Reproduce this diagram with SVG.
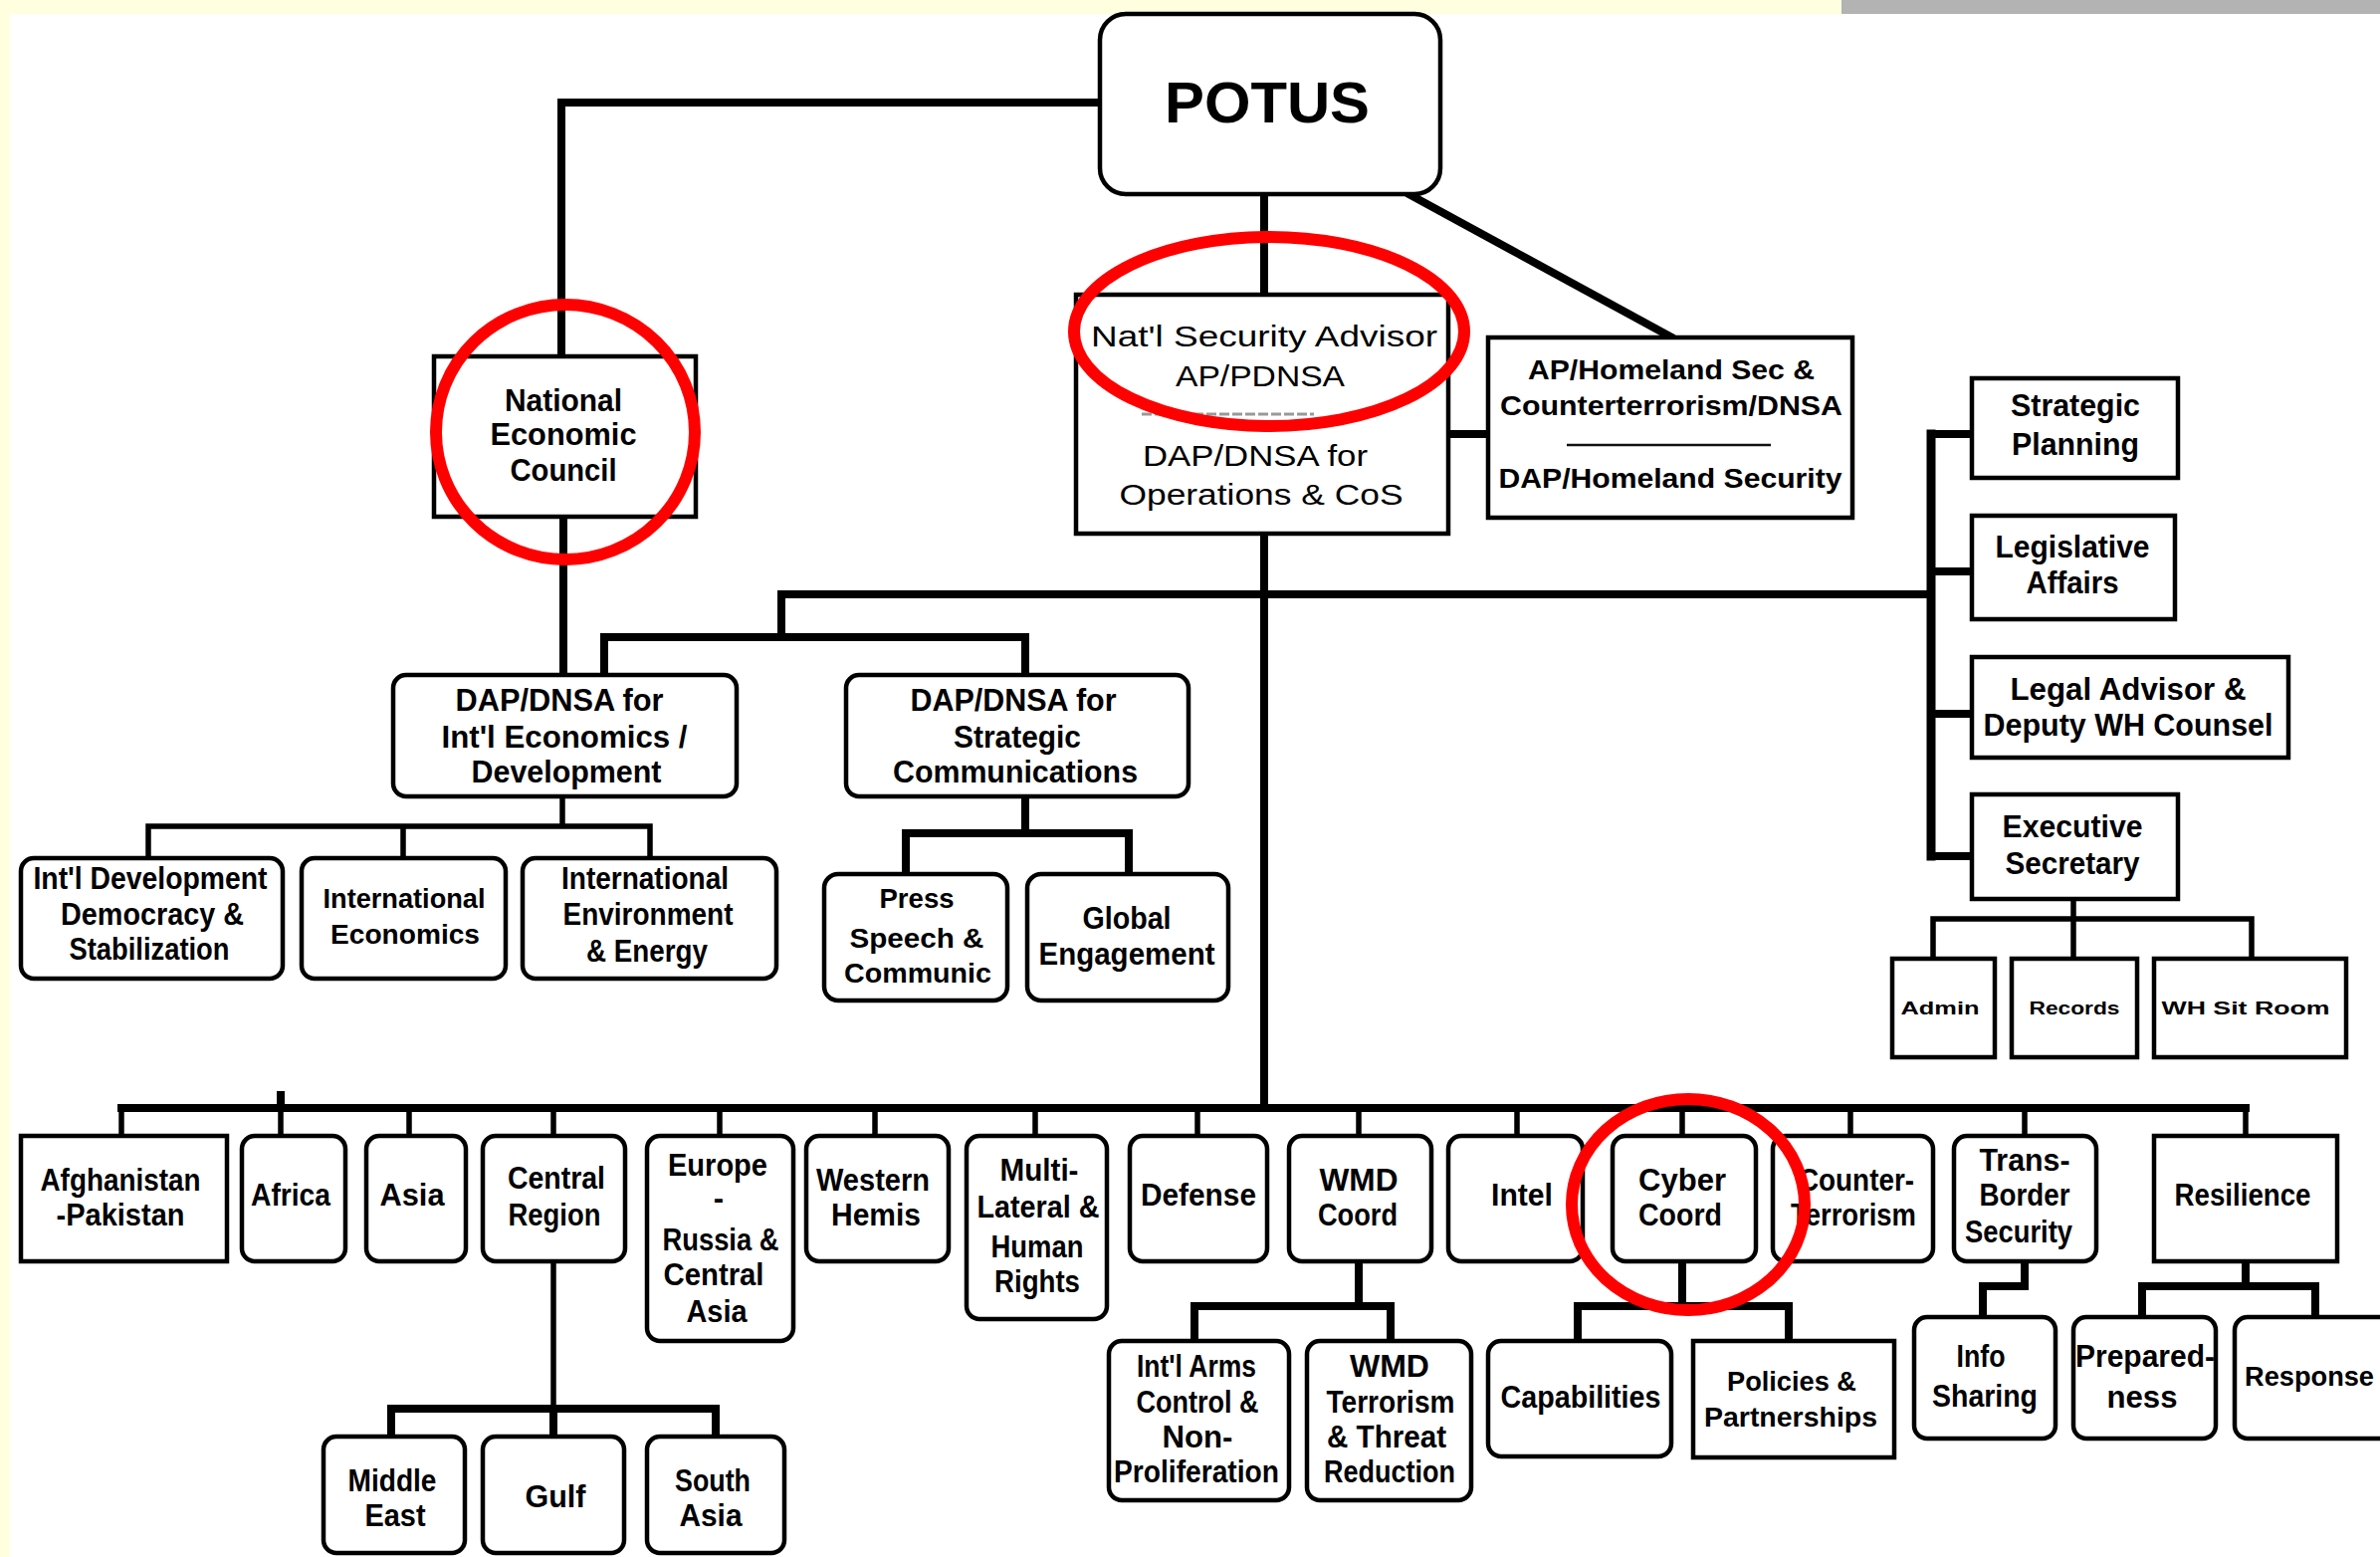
<svg xmlns="http://www.w3.org/2000/svg" width="2391" height="1564" viewBox="0 0 2391 1564">
<style>
.bx{fill:#fff;stroke:#000;stroke-width:4.5}
.t{font-family:"Liberation Sans",Arial,sans-serif;font-weight:bold;font-size:31px;text-anchor:middle;fill:#000}
.s{font-size:28px}
.xs{font-size:19px}
.r{font-weight:normal;font-size:30px}
.cn path{fill:none;stroke:#000;stroke-width:8;stroke-linecap:square}
.cn .th{stroke-width:5.5}
.el{fill:none;stroke:#f00;stroke-width:12}
</style>
<rect width="2391" height="1564" fill="#fff"/>
<rect x="0" y="0" width="1850" height="14" fill="#ffffe0"/>
<rect x="1850" y="0" width="541" height="14" fill="#b3b3b3"/>
<rect x="0" y="0" width="10" height="1564" fill="#ffffe0"/>

<g id="connectors" class="cn">
<path d="M1105,103 H564 V358"/>
<path d="M1270,195 V296"/>
<path d="M1417,196 L1678,338"/>
<path d="M1456,436 H1495"/>
<path d="M566,519 V678"/>
<path d="M1270,537 V1113"/>
<path d="M785,597 H1940"/>
<path d="M1940,436 V860" style="stroke-width:9"/>
<path d="M1940,436 H1981 M1940,574 H1981 M1940,717 H1981 M1940,860 H1981"/>
<path d="M785,597 V640 M607,640 H1030 M607,640 V678 M1030,640 V678"/>
<path class="th" d="M565,800 V830 M149,830 H653 M149,830 V862 M405,830 V862 M653,830 V862"/>
<path d="M1030,800 V837 M910,837 H1134 M910,837 V878 M1134,837 V878"/>
<path class="th" d="M2083,903 V923 M1942,923 H2262 M1942,923 V963 M2083,923 V963 M2262,923 V963"/>
<path d="M122,1113 H2256 M282,1100 V1113"/>
<path class="th" d="M122,1113 V1141 M282,1113 V1141 M411,1113 V1141 M556,1113 V1141 M723,1113 V1141 M879,1113 V1141 M1040,1113 V1141 M1203,1113 V1141 M1365,1113 V1141 M1524,1113 V1141 M1690,1113 V1141 M1859,1113 V1141 M2034,1113 V1141 M2256,1113 V1141"/>
<path class="th" d="M556,1267 V1415"/>
<path d="M393,1415 H719 M393,1415 V1443 M556,1415 V1443 M719,1415 V1443"/>
<path d="M1365,1267 V1312 M1200,1312 H1397 M1200,1312 V1347 M1397,1312 V1347"/>
<path d="M1690,1267 V1312 M1585,1312 H1797 M1585,1312 V1347 M1797,1312 V1347"/>
<path d="M2034,1267 V1292 H1992 V1323"/>
<path d="M2256,1267 V1292 M2152,1292 H2326 M2152,1292 V1323 M2326,1292 V1323"/>
</g>

<g id="potus"><rect class="bx" x="1105" y="14" width="342" height="181" rx="26"/><text class="t" x="1273" y="123" style="font-size:57px" textLength="206" lengthAdjust="spacingAndGlyphs">POTUS</text></g>

<g id="nec"><rect class="bx" x="436" y="358" width="263" height="161"/>
<text class="t" x="566" y="413" textLength="118" lengthAdjust="spacingAndGlyphs">National</text>
<text class="t" x="566" y="447" textLength="147" lengthAdjust="spacingAndGlyphs">Economic</text>
<text class="t" x="566" y="483" textLength="107" lengthAdjust="spacingAndGlyphs">Council</text></g>

<g id="nsa"><rect class="bx" x="1081" y="296" width="374" height="240"/>
<text class="t r" x="1270" y="348" textLength="348" lengthAdjust="spacingAndGlyphs">Nat'l Security Advisor</text>
<text class="t r" x="1266" y="388" textLength="170" lengthAdjust="spacingAndGlyphs">AP/PDNSA</text>
<path d="M1147,416 H1320" stroke="#999" stroke-width="3" stroke-dasharray="10 3"/>
<text class="t r" x="1261" y="468" textLength="226" lengthAdjust="spacingAndGlyphs">DAP/DNSA for</text>
<text class="t r" x="1267" y="507" textLength="285" lengthAdjust="spacingAndGlyphs">Operations &amp; CoS</text></g>

<g id="homeland"><rect class="bx" x="1495" y="339" width="366" height="181"/>
<text class="t s" x="1679" y="381" textLength="288" lengthAdjust="spacingAndGlyphs">AP/Homeland Sec &amp;</text>
<text class="t s" x="1679" y="417" textLength="344" lengthAdjust="spacingAndGlyphs">Counterterrorism/DNSA</text>
<path d="M1574,447 H1779" stroke="#111" stroke-width="2.5"/>
<text class="t s" x="1678" y="490" textLength="345" lengthAdjust="spacingAndGlyphs">DAP/Homeland Security</text></g>

<g id="strategic-planning"><rect class="bx" x="1981" y="380" width="207" height="100"/>
<text class="t" x="2085" y="418" textLength="130" lengthAdjust="spacingAndGlyphs">Strategic</text>
<text class="t" x="2085" y="457" textLength="128" lengthAdjust="spacingAndGlyphs">Planning</text></g>

<g id="legislative-affairs"><rect class="bx" x="1981" y="518" width="204" height="104"/>
<text class="t" x="2082" y="560" textLength="155" lengthAdjust="spacingAndGlyphs">Legislative</text>
<text class="t" x="2082" y="596" textLength="93" lengthAdjust="spacingAndGlyphs">Affairs</text></g>

<g id="legal-advisor"><rect class="bx" x="1981" y="660" width="318" height="101"/>
<text class="t" x="2138" y="703" textLength="237" lengthAdjust="spacingAndGlyphs">Legal Advisor &amp;</text>
<text class="t" x="2138" y="739" textLength="291" lengthAdjust="spacingAndGlyphs">Deputy WH Counsel</text></g>

<g id="executive-secretary"><rect class="bx" x="1981" y="798" width="207" height="105"/>
<text class="t" x="2082" y="841" textLength="141" lengthAdjust="spacingAndGlyphs">Executive</text>
<text class="t" x="2082" y="878" textLength="135" lengthAdjust="spacingAndGlyphs">Secretary</text></g>

<g id="admin"><rect class="bx" x="1901" y="963" width="103" height="99"/><text class="t xs" x="1949" y="1019" textLength="79" lengthAdjust="spacingAndGlyphs">Admin</text></g>
<g id="records"><rect class="bx" x="2021" y="963" width="126" height="99"/><text class="t xs" x="2084" y="1019" textLength="91" lengthAdjust="spacingAndGlyphs">Records</text></g>
<g id="wh-sit-room"><rect class="bx" x="2164" y="963" width="193" height="99"/><text class="t xs" x="2256" y="1019" textLength="169" lengthAdjust="spacingAndGlyphs">WH Sit Room</text></g>

<g id="dap-intl-econ"><rect class="bx" x="395" y="678" width="345" height="122" rx="13"/>
<text class="t" x="562" y="714" textLength="209" lengthAdjust="spacingAndGlyphs">DAP/DNSA for</text>
<text class="t" x="567" y="751" textLength="247" lengthAdjust="spacingAndGlyphs">Int'l Economics /</text>
<text class="t" x="569" y="786" textLength="191" lengthAdjust="spacingAndGlyphs">Development</text></g>

<g id="dap-strat-comm"><rect class="bx" x="850" y="678" width="344" height="122" rx="13"/>
<text class="t" x="1018" y="714" textLength="207" lengthAdjust="spacingAndGlyphs">DAP/DNSA for</text>
<text class="t" x="1022" y="751" textLength="128" lengthAdjust="spacingAndGlyphs">Strategic</text>
<text class="t" x="1020" y="786" textLength="246" lengthAdjust="spacingAndGlyphs">Communications</text></g>

<g id="intl-development"><rect class="bx" x="21" y="862" width="263" height="121" rx="13"/>
<text class="t" x="151" y="893" textLength="235" lengthAdjust="spacingAndGlyphs">Int'l Development</text>
<text class="t" x="153" y="929" textLength="184" lengthAdjust="spacingAndGlyphs">Democracy &amp;</text>
<text class="t" x="150" y="964" textLength="161" lengthAdjust="spacingAndGlyphs">Stabilization</text></g>

<g id="intl-economics"><rect class="bx" x="303" y="862" width="205" height="121" rx="13"/>
<text class="t s" x="406" y="912" textLength="163" lengthAdjust="spacingAndGlyphs">International</text>
<text class="t s" x="407" y="948" textLength="150" lengthAdjust="spacingAndGlyphs">Economics</text></g>

<g id="intl-environment"><rect class="bx" x="525" y="862" width="255" height="121" rx="13"/>
<text class="t" x="648" y="893" textLength="168" lengthAdjust="spacingAndGlyphs">International</text>
<text class="t" x="651" y="929" textLength="171" lengthAdjust="spacingAndGlyphs">Environment</text>
<text class="t" x="650" y="966" textLength="122" lengthAdjust="spacingAndGlyphs">&amp; Energy</text></g>

<g id="press"><rect class="bx" x="828" y="878" width="184" height="127" rx="14"/>
<text class="t s" x="921" y="912" textLength="75" lengthAdjust="spacingAndGlyphs">Press</text>
<text class="t s" x="921" y="952" textLength="135" lengthAdjust="spacingAndGlyphs">Speech &amp;</text>
<text class="t s" x="922" y="987" textLength="148" lengthAdjust="spacingAndGlyphs">Communic</text></g>

<g id="global-engagement"><rect class="bx" x="1032" y="878" width="202" height="127" rx="14"/>
<text class="t" x="1132" y="933" textLength="89" lengthAdjust="spacingAndGlyphs">Global</text>
<text class="t" x="1132" y="969" textLength="177" lengthAdjust="spacingAndGlyphs">Engagement</text></g>

<g id="afghanistan-pakistan"><rect class="bx" x="21" y="1141" width="207" height="126"/>
<text class="t" x="121" y="1196" textLength="161" lengthAdjust="spacingAndGlyphs">Afghanistan</text>
<text class="t" x="121" y="1231" textLength="129" lengthAdjust="spacingAndGlyphs">-Pakistan</text></g>

<g id="africa"><rect class="bx" x="243" y="1141" width="104" height="126" rx="13"/><text class="t" x="292" y="1211" textLength="80" lengthAdjust="spacingAndGlyphs">Africa</text></g>
<g id="asia"><rect class="bx" x="368" y="1141" width="100" height="126" rx="13"/><text class="t" x="414" y="1211" textLength="65" lengthAdjust="spacingAndGlyphs">Asia</text></g>

<g id="central-region"><rect class="bx" x="485" y="1141" width="143" height="126" rx="13"/>
<text class="t" x="559" y="1194" textLength="98" lengthAdjust="spacingAndGlyphs">Central</text>
<text class="t" x="557" y="1231" textLength="93" lengthAdjust="spacingAndGlyphs">Region</text></g>

<g id="europe"><rect class="bx" x="650" y="1141" width="147" height="206" rx="13"/>
<text class="t" x="721" y="1181" textLength="100" lengthAdjust="spacingAndGlyphs">Europe</text>
<text class="t" x="722" y="1214">-</text>
<text class="t" x="724" y="1256" textLength="117" lengthAdjust="spacingAndGlyphs">Russia &amp;</text>
<text class="t" x="717" y="1291" textLength="101" lengthAdjust="spacingAndGlyphs">Central</text>
<text class="t" x="720" y="1328" textLength="61" lengthAdjust="spacingAndGlyphs">Asia</text></g>

<g id="western-hemis"><rect class="bx" x="810" y="1141" width="143" height="126" rx="13"/>
<text class="t" x="877" y="1196" textLength="114" lengthAdjust="spacingAndGlyphs">Western</text>
<text class="t" x="880" y="1231" textLength="90" lengthAdjust="spacingAndGlyphs">Hemis</text></g>

<g id="multilateral"><rect class="bx" x="971" y="1141" width="141" height="184" rx="13"/>
<text class="t" x="1044" y="1186" textLength="79" lengthAdjust="spacingAndGlyphs">Multi-</text>
<text class="t" x="1043" y="1223" textLength="123" lengthAdjust="spacingAndGlyphs">Lateral &amp;</text>
<text class="t" x="1042" y="1263" textLength="93" lengthAdjust="spacingAndGlyphs">Human</text>
<text class="t" x="1042" y="1298" textLength="86" lengthAdjust="spacingAndGlyphs">Rights</text></g>

<g id="defense"><rect class="bx" x="1135" y="1141" width="138" height="126" rx="13"/><text class="t" x="1204" y="1211" textLength="116" lengthAdjust="spacingAndGlyphs">Defense</text></g>

<g id="wmd-coord"><rect class="bx" x="1295" y="1141" width="143" height="126" rx="13"/>
<text class="t" x="1365" y="1196" textLength="79" lengthAdjust="spacingAndGlyphs">WMD</text>
<text class="t" x="1364" y="1231" textLength="80" lengthAdjust="spacingAndGlyphs">Coord</text></g>

<g id="intel"><rect class="bx" x="1455" y="1141" width="135" height="126" rx="13"/><text class="t" x="1529" y="1211" textLength="62" lengthAdjust="spacingAndGlyphs">Intel</text></g>

<g id="cyber-coord"><rect class="bx" x="1620" y="1141" width="144" height="126" rx="13"/>
<text class="t" x="1690" y="1196" textLength="88" lengthAdjust="spacingAndGlyphs">Cyber</text>
<text class="t" x="1688" y="1231" textLength="84" lengthAdjust="spacingAndGlyphs">Coord</text></g>

<g id="counter-terrorism"><rect class="bx" x="1781" y="1141" width="161" height="126" rx="13"/>
<text class="t" x="1865" y="1196" textLength="116" lengthAdjust="spacingAndGlyphs">Counter-</text>
<text class="t" x="1862" y="1231" textLength="126" lengthAdjust="spacingAndGlyphs">Terrorism</text></g>

<g id="trans-border"><rect class="bx" x="1963" y="1141" width="143" height="126" rx="13"/>
<text class="t" x="2034" y="1176" textLength="91" lengthAdjust="spacingAndGlyphs">Trans-</text>
<text class="t" x="2034" y="1211" textLength="91" lengthAdjust="spacingAndGlyphs">Border</text>
<text class="t" x="2028" y="1248" textLength="108" lengthAdjust="spacingAndGlyphs">Security</text></g>

<g id="resilience"><rect class="bx" x="2164" y="1141" width="184" height="126"/><text class="t" x="2253" y="1211" textLength="137" lengthAdjust="spacingAndGlyphs">Resilience</text></g>

<g id="middle-east"><rect class="bx" x="325" y="1443" width="142" height="117" rx="13"/>
<text class="t" x="394" y="1498" textLength="89" lengthAdjust="spacingAndGlyphs">Middle</text>
<text class="t" x="397" y="1533" textLength="61" lengthAdjust="spacingAndGlyphs">East</text></g>
<g id="gulf"><rect class="bx" x="485" y="1443" width="142" height="117" rx="13"/><text class="t" x="558" y="1514" textLength="61" lengthAdjust="spacingAndGlyphs">Gulf</text></g>
<g id="south-asia"><rect class="bx" x="650" y="1443" width="138" height="117" rx="13"/>
<text class="t" x="716" y="1498" textLength="76" lengthAdjust="spacingAndGlyphs">South</text>
<text class="t" x="714" y="1533" textLength="63" lengthAdjust="spacingAndGlyphs">Asia</text></g>

<g id="arms-control"><rect class="bx" x="1114" y="1347" width="181" height="160" rx="13"/>
<text class="t" x="1202" y="1383" textLength="120" lengthAdjust="spacingAndGlyphs">Int'l Arms</text>
<text class="t" x="1203" y="1419" textLength="123" lengthAdjust="spacingAndGlyphs">Control &amp;</text>
<text class="t" x="1203" y="1454" textLength="71" lengthAdjust="spacingAndGlyphs">Non-</text>
<text class="t" x="1202" y="1489" textLength="166" lengthAdjust="spacingAndGlyphs">Proliferation</text></g>

<g id="wmd-terrorism"><rect class="bx" x="1313" y="1347" width="165" height="160" rx="13"/>
<text class="t" x="1396" y="1383" textLength="80" lengthAdjust="spacingAndGlyphs">WMD</text>
<text class="t" x="1397" y="1419" textLength="129" lengthAdjust="spacingAndGlyphs">Terrorism</text>
<text class="t" x="1393" y="1454" textLength="120" lengthAdjust="spacingAndGlyphs">&amp; Threat</text>
<text class="t" x="1396" y="1489" textLength="132" lengthAdjust="spacingAndGlyphs">Reduction</text></g>

<g id="capabilities"><rect class="bx" x="1495" y="1347" width="184" height="116" rx="13"/><text class="t" x="1588" y="1414" textLength="161" lengthAdjust="spacingAndGlyphs">Capabilities</text></g>

<g id="policies"><rect class="bx" x="1701" y="1347" width="202" height="117"/>
<text class="t s" x="1800" y="1397" textLength="130" lengthAdjust="spacingAndGlyphs">Policies &amp;</text>
<text class="t s" x="1799" y="1433" textLength="174" lengthAdjust="spacingAndGlyphs">Partnerships</text></g>

<g id="info-sharing"><rect class="bx" x="1923" y="1323" width="142" height="122" rx="13"/>
<text class="t" x="1990" y="1373" textLength="49" lengthAdjust="spacingAndGlyphs">Info</text>
<text class="t" x="1994" y="1413" textLength="106" lengthAdjust="spacingAndGlyphs">Sharing</text></g>

<g id="preparedness"><rect class="bx" x="2083" y="1323" width="143" height="122" rx="13"/>
<text class="t" x="2155" y="1373" textLength="140" lengthAdjust="spacingAndGlyphs">Prepared-</text>
<text class="t" x="2152" y="1414" textLength="71" lengthAdjust="spacingAndGlyphs">ness</text></g>

<g id="response"><rect class="bx" x="2245" y="1323" width="170" height="122" rx="13"/>
<text class="t" x="2255" y="1392" style="text-anchor:start;font-size:27px" textLength="130" lengthAdjust="spacingAndGlyphs">Response</text></g>

<g id="highlights">
<ellipse class="el" cx="568" cy="434" rx="130" ry="128"/>
<ellipse class="el" cx="1275" cy="333" rx="196" ry="95"/>
<ellipse class="el" cx="1696" cy="1210" rx="117" ry="106"/>
</g>
</svg>
